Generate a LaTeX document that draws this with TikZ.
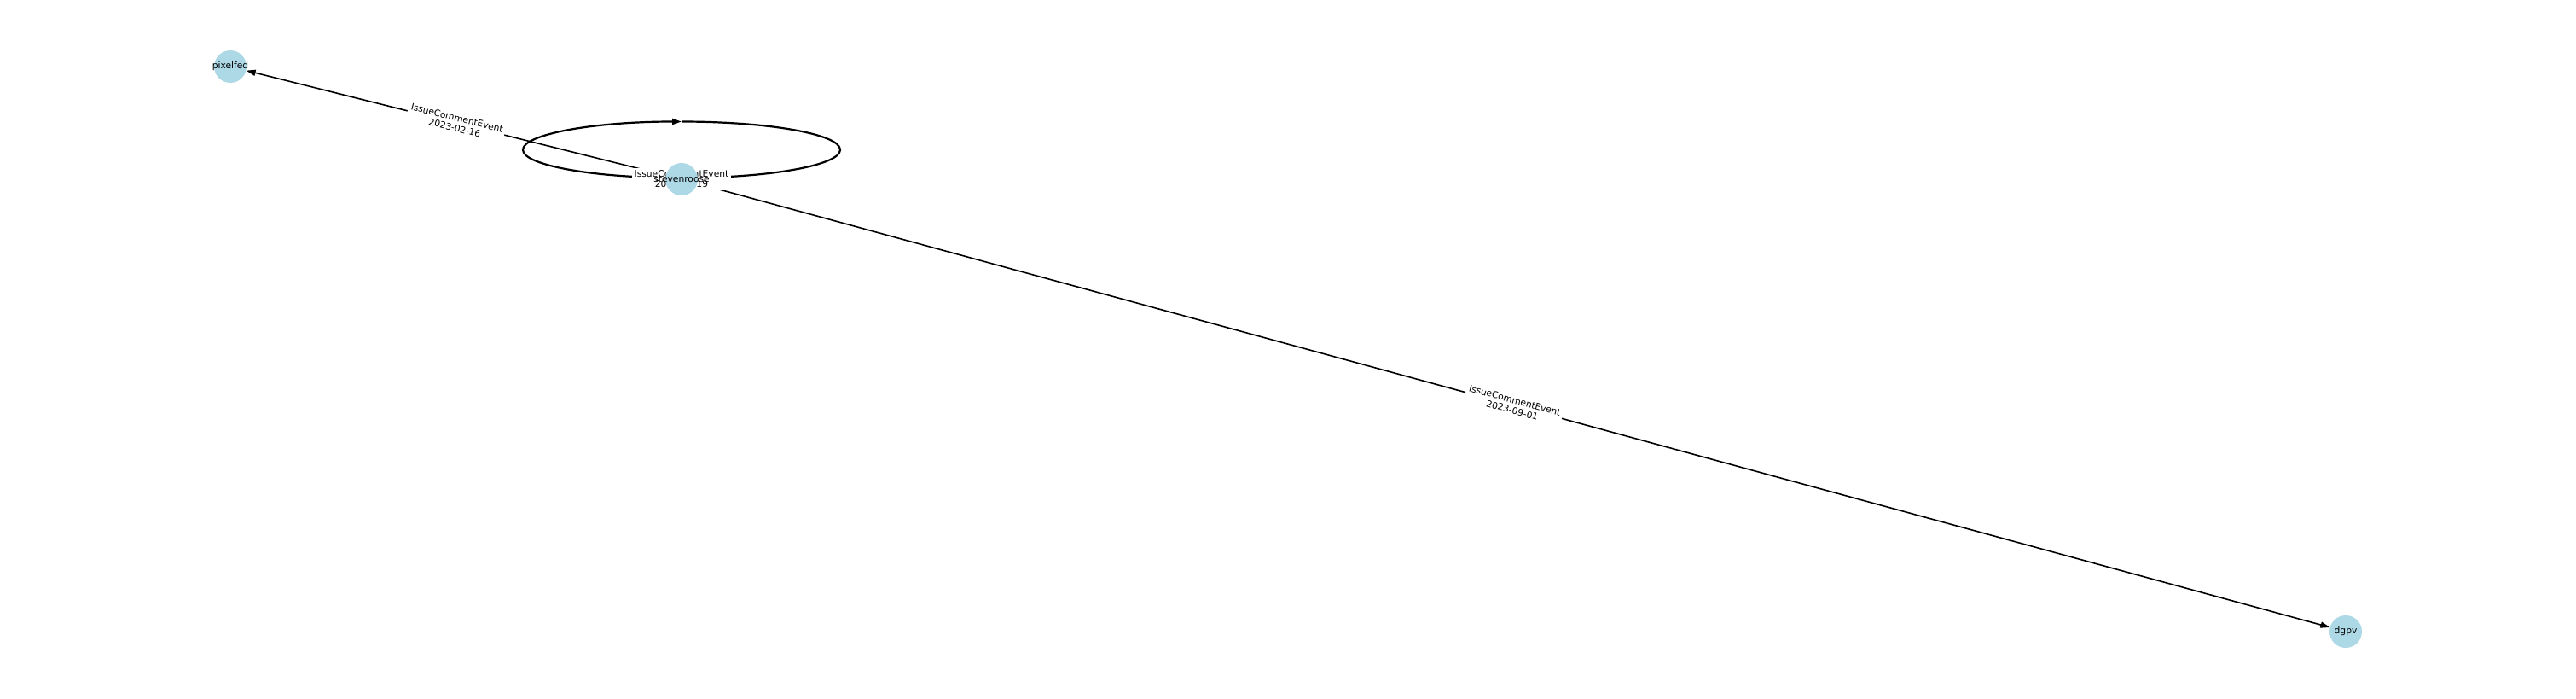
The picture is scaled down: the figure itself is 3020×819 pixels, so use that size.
\documentclass[tikz,border=0pt]{standalone}
\usepackage{fontspec}
\setmainfont{DejaVu Sans}
\usetikzlibrary{arrows.meta}
\definecolor{nodeblue}{HTML}{ADD8E6}
\pgfdeclarelayer{background}
\pgfsetlayers{background,main}
\tikzset{
  vertex/.style={circle, fill=nodeblue, minimum size=38pt, inner sep=0pt,
    label={[font=\fontsize{10.7pt}{12.5pt}\selectfont, inner sep=0pt]center:#1}},
  edgeline/.style={line width=1.6pt, -{Triangle[length=11pt,width=7pt]}},
  looppart/.style={line width=2.2pt},
  elabel/.style={fill=white, inner sep=3pt, align=center, font=\fontsize{10.7pt}{12pt}\selectfont}
}
\begin{document}
\begin{tikzpicture}[x=1pt,y=1pt]
\useasboundingbox (0,0) rectangle (3020,-819);
\node[vertex=pixelfed] (pixelfed) at (270,-78) {};
\node[vertex=stevenroose] (stevenroose) at (799,-210) {};
\node[vertex=dgpv] (dgpv) at (2750,-740) {};
\begin{pgfonlayer}{background}
  \draw[edgeline] (stevenroose) -- (pixelfed);
  \draw[edgeline] (stevenroose) -- (dgpv);
  \coordinate (loopbottom) at (799,-208.5);
  \coordinate (looptop) at (799,-142.5);
  \draw[looppart, -{Triangle[length=11pt,width=7pt]}] (loopbottom) arc[start angle=270, end angle=90, x radius=186pt, y radius=33pt];
  \draw[looppart] (looptop) arc[start angle=90, end angle=-90, x radius=186pt, y radius=33pt];
  \path (stevenroose) -- (pixelfed) node[midway, sloped, elabel] {IssueCommentEvent\\2023-02-16};
  \path (stevenroose) -- (dgpv) node[midway, sloped, elabel] {IssueCommentEvent\\2023-09-01};
  \node[elabel] (looplabel) at (799,-210) {IssueCommentEvent\\2023-02-19};
\end{pgfonlayer}
\end{tikzpicture}
\end{document}
